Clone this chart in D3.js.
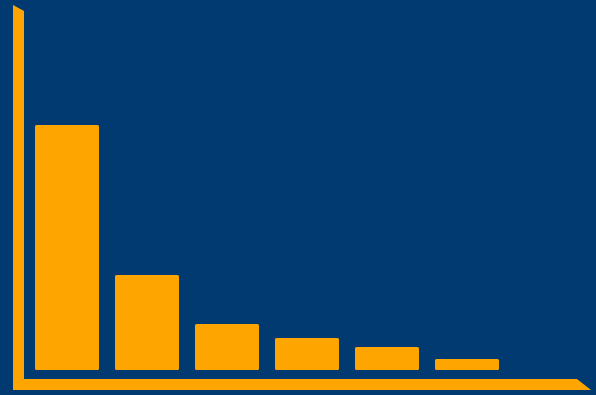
<!DOCTYPE html>
<html>
<head>
<meta charset="utf-8">
<script src="https://cdn.jsdelivr.net/npm/d3@7"></script>
<style>
  html, body { margin: 0; padding: 0; background: #003a70; }
  svg { display: block; }
</style>
</head>
<body>
<div id="chart"></div>
<script>
// Chart dimensions.
const w = 596;
const h = 395;

// Data (relative to the tallest bar)
const categories = ["A", "B", "C", "D", "E", "F"];
const values = [100, 38.8, 18.8, 13.1, 9.4, 4.5];

const bg = "#003a70";
const orange = "#ffa500";

const svg = d3.select("#chart")
  .append("svg")
  .attr("width", w)
  .attr("height", h)
  .attr("viewBox", [0, 0, w, h]);

svg.append("rect")
  .attr("width", w)
  .attr("height", h)
  .attr("fill", bg);

const x = d3.scaleBand()
  .domain(categories)
  .range([27, 507])
  .paddingInner(0.2)
  .paddingOuter(0.1);

const y = d3.scaleLinear()
  .domain([0, 100])
  .range([370, 125]);

// Bars
svg.append("g")
  .attr("fill", orange)
  .selectAll("rect")
  .data(values)
  .join("rect")
  .attr("x", (d, i) => x(categories[i]))
  .attr("y", d => y(d))
  .attr("width", x.bandwidth())
  .attr("height", d => y(0) - y(d))
  .attr("rx", 1.5);

// Axes: thick orange L shape with slanted ends
const axisPath = d3.path();
axisPath.moveTo(13, 5);
axisPath.lineTo(24, 11);
axisPath.lineTo(24, 379);
axisPath.lineTo(577, 379);
axisPath.lineTo(591, 390);
axisPath.lineTo(13, 390);
axisPath.closePath();

svg.append("path")
  .attr("d", axisPath.toString())
  .attr("fill", orange);
</script>
</body>
</html>
